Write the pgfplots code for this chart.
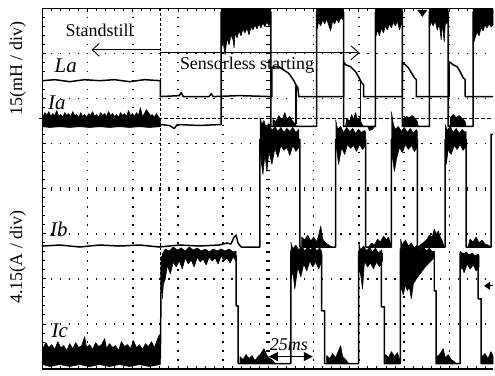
\documentclass[border=0pt]{standalone}
\usepackage{pgfplots}
\pgfplotsset{compat=1.18}
\usepackage{fontspec}
\setmainfont{Liberation Serif}
\usetikzlibrary{arrows.meta}

\begin{document}
\begin{tikzpicture}
\begin{axis}[
  scale only axis, width=452.5pt, height=362pt,
  xmin=42.5, xmax=495, ymin=8.5, ymax=370.5, y dir=reverse,
  clip=false,
  axis line style={draw=none},
  xtick={42.5,87.9,133.3,178.7,224.1,269.5,314.9,360.3,405.7,451.1,496.5},
  ytick={8.5,53.75,99,144.25,189.5,234.75,280,325.25,370.5},
  minor x tick num=4, minor y tick num=4,
  xticklabels={}, yticklabels={},
  tick align=inside,
  xtick pos=both, ytick pos=left,
  major tick length=3.5pt, minor tick length=3pt,
  tick style={black, line width=0.9pt},
  grid=major,
  x grid style={black, line width=1.5pt, dash pattern=on 1.5pt off 7.55pt, dash phase=0.75pt},
  y grid style={black, line width=1.5pt, dash pattern=on 1.5pt off 7.58pt, dash phase=0.75pt},
  trace/.style={black, line width=1.5pt, line join=round},
  noise/.style={fill=black, draw=black, line width=0.6pt, line join=round},
]
% picture extent
\path (axis cs:0,0) rectangle (axis cs:495,375);

% screen frame, open on the right
\draw[line width=1.1pt] (axis cs:495,8.5) -- (axis cs:42.5,8.5) -- (axis cs:42.5,370.5) -- (axis cs:495,370.5);
% centre cross with fine graduation
\draw[line width=4pt, dash pattern=on 1.4pt off 7.65pt, dash phase=0.7pt] (axis cs:269.5,8.5) -- (axis cs:269.5,370.5);
\draw[line width=4pt, dash pattern=on 1.4pt off 7.68pt, dash phase=0.7pt] (axis cs:42.5,189.5) -- (axis cs:495,189.5);

% trigger instant and Ia reference level
\draw[line width=1.2pt, dash pattern=on 3pt off 2pt] (axis cs:161,8.5) -- (axis cs:161,352);
\draw[line width=1.2pt, dash pattern=on 4pt off 2pt] (axis cs:39,119) -- (axis cs:495,119);

% ---------------- La ----------------
\addplot[trace] coordinates {(43,81) (55,80) (70,82) (85,80) (100,81) (115,80) (130,82) (145,80) (161,81) (161,97) (180,96) (182,93) (184,97) (210,97) (212,94) (214,97) (240,96) (273,97) (273,68) (276,67) (280,67) (283,69) (286,71) (289,73) (291,75) (293,78) (295,81) (297,85) (299,88) (300,97) (345,97) (345,62) (347,65) (352,67) (355,70) (357,72) (360,77) (363,83) (365,85) (365,97) (404,97) (404,63) (407,65) (410,68) (413,73) (416,78) (418,80) (418,97) (451,97) (451,62) (455,65) (459,67) (462,72) (465,78) (467,80) (467,97) (495,97)};
\addplot[trace] coordinates {(297,86) (297,124)};
\addplot[trace] coordinates {(362,80) (362,124)};

% ---------------- Ia ----------------
\addplot[trace] coordinates {(43,127) (161,127) (161,125) (170,126) (175,129) (178,125) (200,126) (222,125) (222,12) (272,12) (272,127) (318,127) (318,12) (345,12) (345,127) (377,127) (377,12) (404,12) (404,127) (431,127) (431,12) (450,12) (450,127) (475,127) (475,12) (495,12)};
% standstill ripple
\addplot[noise] coordinates {(43,118) (45,113) (47,116) (49,112) (51,117) (53,114) (55,116) (57,111) (59,117) (61,115) (63,118) (65,113) (67,116) (69,114) (71,117) (73,112) (75,116) (77,115) (79,118) (81,113) (83,117) (85,115) (87,118) (89,114) (91,116) (93,112) (95,117) (97,115) (99,118) (101,113) (103,116) (105,114) (107,117) (109,112) (111,116) (113,114) (115,117) (117,115) (119,118) (121,113) (123,116) (125,114) (127,117) (129,111) (131,116) (133,114) (135,117) (137,113) (139,116) (141,108) (143,117) (145,114) (147,110) (149,113) (151,116) (153,115) (155,118) (157,114) (159,117) (161,120) (161,127) (150,128) (140,127) (130,128) (120,127) (110,128) (100,127) (90,128) (80,127) (70,128) (60,127) (50,128) (43,127)};
% conduction intervals
\addplot[noise] coordinates {(222,9) (222,50) (224,42) (226,55) (228,38) (230,45) (232,35) (234,40) (235,48) (236,33) (238,38) (240,31) (242,36) (244,29) (246,33) (248,28) (250,35) (252,27) (254,30) (256,25) (258,29) (260,24) (262,28) (264,23) (266,27) (268,22) (270,26) (272,22) (272,9)};
\addplot[noise] coordinates {(318,9) (318,30) (320,22) (322,26) (324,20) (326,24) (328,19) (330,25) (332,31) (334,21) (336,24) (338,19) (340,23) (342,18) (345,20) (345,9)};
\addplot[noise] coordinates {(377,9) (377,38) (379,30) (381,36) (383,28) (385,33) (387,26) (389,30) (391,24) (393,28) (395,22) (397,26) (399,21) (401,30) (403,24) (404,22) (404,9)};
\addplot[noise] coordinates {(431,9) (431,28) (433,22) (435,26) (437,21) (439,30) (441,24) (443,40) (444,23) (446,42) (447,25) (449,22) (450,24) (450,9)};
\addplot[noise] coordinates {(475,9) (475,45) (477,38) (479,32) (481,36) (483,28) (485,31) (487,25) (489,28) (491,24) (493,27) (495,25) (495,9)};
% ripple in the off intervals
\addplot[noise] coordinates {(274,127) (274,120) (277,122) (280,116) (283,121) (286,113) (288,120) (291,117) (294,122) (296,124) (298,127)};
\addplot[noise] coordinates {(347,127) (348,119) (351,122) (353,115) (355,120) (357,113) (359,121) (361,118) (363,124) (365,127)};
\addplot[noise] coordinates {(369,127) (371,131) (374,130) (376,127)};
\addplot[noise] coordinates {(405,127) (405,119) (408,117) (411,118) (414,116) (417,119) (419,122) (420,127)};
\addplot[noise] coordinates {(452,127) (452,118) (455,115) (458,118) (461,116) (464,119) (467,122) (468,127)};

% ---------------- Ib ----------------
\addplot[trace] coordinates {(43,247) (60,246) (80,248) (100,246) (120,247) (140,246) (160,248) (180,246) (200,247) (220,246) (228,244) (232,245) (235,238) (237,236) (239,244) (242,248) (261,248) (261,140) (301,140) (301,248) (337,248) (337,140) (367,140) (367,248) (393,248) (393,140) (419,140) (419,248) (447,248) (447,140) (468,140) (468,248) (493,248) (493,135) (495,135)};
\addplot[noise] coordinates {(261,118) (263,125) (265,121) (267,128) (270,124) (273,131) (276,127) (279,132) (282,128) (285,133) (288,129) (291,132) (294,128) (297,133) (300,130) (300,148) (297,152) (294,146) (291,156) (288,148) (285,151) (282,146) (279,158) (276,149) (273,165) (270,152) (268,172) (266,155) (264,175) (262,160) (261,150)};
\addplot[noise] coordinates {(337,120) (339,130) (342,127) (345,133) (348,128) (351,132) (354,129) (357,134) (360,130) (363,133) (366,131) (367,133) (367,146) (364,150) (361,145) (358,152) (355,146) (352,149) (349,145) (346,155) (343,148) (340,165) (338,150) (337,147)};
\addplot[noise] coordinates {(393,112) (395,125) (397,130) (400,127) (403,132) (406,128) (409,133) (412,129) (415,134) (418,130) (419,132) (419,148) (416,152) (413,146) (410,150) (407,145) (404,153) (401,148) (398,160) (396,172) (394,158) (393,150)};
\addplot[noise] coordinates {(447,125) (449,131) (452,127) (455,133) (458,129) (461,134) (464,130) (467,133) (468,132) (468,147) (465,151) (462,145) (459,150) (456,146) (453,155) (450,150) (448,165) (447,150)};
\addplot[noise] coordinates {(303,248) (303,238) (306,241) (309,236) (312,242) (315,238) (318,243) (320,236) (322,227) (324,240) (327,244) (330,246) (333,248)};
\addplot[noise] coordinates {(370,248) (373,244) (376,246) (379,240) (382,243) (385,237) (388,241) (390,238) (392,244) (393,248)};
\addplot[noise] coordinates {(420,248) (423,245) (426,243) (429,240) (431,236) (434,238) (436,230) (438,235) (440,232) (442,238) (444,242) (446,248)};
\addplot[noise] coordinates {(470,248) (472,240) (475,243) (478,238) (481,244) (484,241) (487,245) (490,246) (493,248)};

% ---------------- Ic ----------------
\addplot[trace] coordinates {(43,360) (161,360) (162,258) (237,257) (237,307) (239,307) (239,365) (292,365) (292,252) (323,256) (323,312) (326,312) (326,365) (360,365) (360,253) (383,257) (383,308) (386,308) (386,365) (402,365) (402,250) (436,254) (436,292) (438,292) (438,365) (462,365) (462,254) (480,258) (480,300) (483,300) (483,365) (495,365)};
\addplot[noise] coordinates {(43,350) (46,344) (49,349) (52,346) (55,351) (58,343) (61,349) (64,347) (67,352) (70,345) (73,350) (76,344) (79,349) (82,347) (85,338) (87,349) (90,346) (93,351) (96,344) (99,348) (102,346) (105,340) (107,350) (110,345) (113,349) (116,347) (119,352) (122,343) (125,348) (128,346) (131,350) (134,342) (137,349) (140,346) (143,351) (146,345) (149,348) (152,343) (155,349) (158,341) (160,336) (161,345) (161,366) (150,368) (140,366) (130,368) (120,366) (110,368) (100,366) (90,368) (80,366) (70,368) (60,366) (50,368) (43,366)};
\addplot[noise] coordinates {(162,290) (163,255) (166,250) (170,252) (174,248) (178,251) (182,249) (186,252) (190,248) (194,251) (198,249) (202,252) (206,250) (210,253) (214,250) (218,252) (222,250) (226,252) (230,250) (234,253) (237,252) (237,262) (234,258) (231,264) (228,259) (225,262) (222,257) (219,265) (216,259) (213,262) (210,258) (207,266) (204,260) (201,263) (198,258) (195,268) (192,261) (189,265) (186,259) (183,270) (180,262) (177,268) (174,263) (171,275) (168,266) (166,280) (164,285) (163,300)};
\addplot[noise] coordinates {(292,243) (294,250) (297,246) (300,251) (303,247) (306,252) (309,248) (312,251) (315,247) (318,252) (321,249) (323,253) (323,262) (320,270) (317,263) (314,268) (311,262) (308,272) (305,265) (302,278) (299,268) (296,290) (294,272) (292,282)};
\addplot[noise] coordinates {(360,243) (362,251) (365,247) (368,252) (371,248) (374,253) (377,249) (380,254) (383,251) (384,255) (384,262) (381,268) (378,263) (375,270) (372,264) (369,268) (366,262) (364,290) (362,275) (360,270)};
\addplot[noise] coordinates {(402,240) (404,246) (407,241) (410,247) (413,244) (416,249) (419,246) (422,250) (425,248) (428,252) (431,249) (434,253) (436,252) (436,258) (433,262) (430,265) (427,268) (424,272) (421,276) (418,280) (415,285) (413,300) (411,288) (409,292) (407,286) (405,296) (403,290) (402,280)};
\addplot[noise] coordinates {(462,252) (465,256) (468,253) (471,257) (474,254) (477,257) (480,255) (481,257) (481,268) (478,272) (475,266) (472,270) (469,265) (466,274) (464,268) (462,272)};
\addplot[noise] coordinates {(241,365) (241,358) (244,361) (247,356) (250,360) (253,357) (256,362) (259,358) (262,355) (265,350) (268,357) (271,360) (274,362) (276,365)};
\addplot[noise] coordinates {(328,365) (328,357) (331,360) (334,355) (337,359) (340,352) (342,347) (344,358) (347,361) (350,365)};
\addplot[noise] coordinates {(387,365) (387,356) (390,359) (393,353) (396,358) (399,354) (401,360) (402,365)};
\addplot[noise] coordinates {(439,365) (439,358) (442,355) (445,350) (447,359) (450,356) (453,361) (456,363) (458,365)};
\addplot[noise] coordinates {(484,365) (484,358) (487,355) (490,360) (493,353) (495,357) (495,365)};

% scope markers
\fill (axis cs:419,10) -- (axis cs:429,10) -- (axis cs:424,17) -- cycle;
\draw[line width=1pt, -{Triangle[length=6pt,width=8pt]}] (axis cs:495,287) -- (axis cs:486,287);

% annotations
\draw[line width=0.9pt, -{Straight Barb[length=7pt,width=13pt]}] (axis cs:161,50) -- (axis cs:92,50);
\draw[line width=0.9pt, -{Straight Barb[length=8pt,width=14pt]}] (axis cs:161,53) -- (axis cs:361,53);
\draw[line width=1.3pt, {Triangle[length=9pt,width=9pt]}-{Triangle[length=9pt,width=9pt]}] (axis cs:270,358) -- (axis cs:314,358);

\node[anchor=base, font=\fontsize{18}{20}\selectfont] at (axis cs:100,37) {Standstill};
\node[anchor=base, font=\fontsize{18}{20}\selectfont] at (axis cs:248,70) {Sensorless starting};
\node[anchor=base, font=\fontsize{21}{24}\selectfont\itshape] at (axis cs:66,73) {La};
\node[anchor=base, font=\fontsize{21}{24}\selectfont\itshape] at (axis cs:57,110) {Ia};
\node[anchor=base, font=\fontsize{21}{24}\selectfont\itshape] at (axis cs:59,237) {Ib};
\node[anchor=base, font=\fontsize{21}{24}\selectfont\itshape] at (axis cs:60,339) {Ic};
\node[anchor=base, font=\fontsize{18}{20}\selectfont\itshape] at (axis cs:290,352) {25ms};
\node[rotate=90, font=\fontsize{18}{20}\selectfont] at (axis cs:18,69) {15(mH / div)};
\node[rotate=90, font=\fontsize{18}{20}\selectfont] at (axis cs:18,258) {4.15(A / div)};
\end{axis}
\end{tikzpicture}
\end{document}
